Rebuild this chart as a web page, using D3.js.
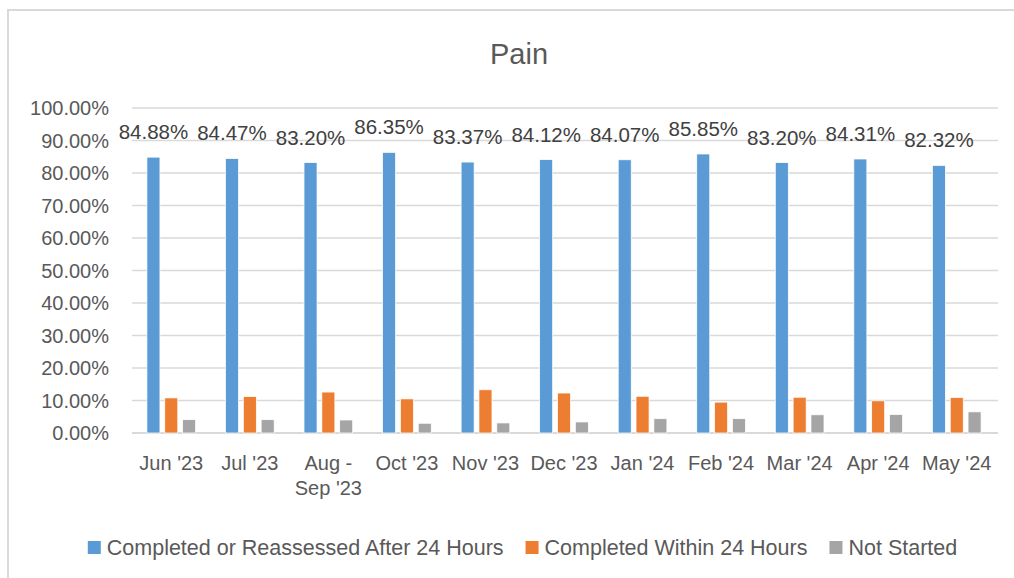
<!DOCTYPE html>
<html>
<head>
<meta charset="utf-8">
<script src="https://cdn.jsdelivr.net/npm/d3@7"></script>
<style>
  body { margin: 0; background: #fff; }
  svg { display: block; font-family: "Liberation Sans", Arial, sans-serif; }
</style>
</head>
<body>
<svg id="chart" width="1014" height="578"></svg>
<script>
// data
const categories = ["Jun '23", "Jul '23", "Aug - Sep '23", "Oct '23", "Nov '23", "Dec '23", "Jan '24", "Feb '24", "Mar '24", "Apr '24", "May '24"];
const seriesNames = ["Completed or Reassessed After 24 Hours", "Completed Within 24 Hours", "Not Started"];
const reassessed = [84.88, 84.47, 83.20, 86.35, 83.37, 84.12, 84.07, 85.85, 83.20, 84.31, 82.32];
const within24 = [10.8, 11.2, 12.6, 10.5, 13.3, 12.3, 11.3, 9.5, 11.0, 9.9, 10.9];
const notStarted = [4.1, 4.1, 4.0, 3.0, 3.1, 3.4, 4.4, 4.4, 5.6, 5.7, 6.5];
const yTicks = [0, 10, 20, 30, 40, 50, 60, 70, 80, 90, 100];
const colors = ["#5b9bd5", "#ed7d31", "#a5a5a5"];

const rows = categories.map((c, i) => ({cat: c, vals: [reassessed[i], within24[i], notStarted[i]]}));

const svg = d3.select("#chart");
const margin = {top: 108, right: 16, bottom: 145, left: 132};
const width = 1014, height = 578;

// chart frame (only left and top edges are in view)
svg.append("path")
  .attr("d", "M8,600 L8,10 L1020,10")
  .attr("fill", "none")
  .attr("stroke", "#d9d9d9")
  .attr("stroke-width", 2);

svg.append("text")
  .attr("x", 519).attr("y", 64)
  .attr("text-anchor", "middle")
  .attr("font-size", 29)
  .attr("fill", "#595959")
  .text("Pain");

const x0 = d3.scaleBand(categories, [margin.left, width - margin.right - 2])
  .paddingInner(0.38).paddingOuter(0.19);
const x1 = d3.scaleBand([0, 1, 2], [0, x0.bandwidth()]).paddingInner(0.27);
const y = d3.scaleLinear([0, 100], [height - margin.bottom, margin.top]);

// gridlines + y labels
svg.append("g")
  .selectAll("line")
  .data(yTicks)
  .join("line")
  .attr("x1", margin.left).attr("x2", width - margin.right)
  .attr("y1", d => y(d)).attr("y2", d => y(d))
  .attr("stroke", "#d9d9d9")
  .attr("stroke-width", d => d === 0 ? 2 : 1.5);

svg.append("g")
  .selectAll("text")
  .data(yTicks)
  .join("text")
  .attr("x", 109).attr("y", d => y(d) + 7)
  .attr("text-anchor", "end")
  .attr("font-size", 20)
  .attr("fill", "#595959")
  .text(d => d.toFixed(2) + "%");

// bars
const groups = svg.append("g")
  .selectAll("g")
  .data(rows)
  .join("g")
  .attr("transform", d => `translate(${x0(d.cat)},0)`);

groups.selectAll("rect")
  .data(d => d.vals.map((v, k) => ({k, v})))
  .join("rect")
  .attr("x", d => x1(d.k))
  .attr("width", x1.bandwidth())
  .attr("y", d => y(d.v))
  .attr("height", d => y(0) - y(d.v))
  .attr("fill", d => colors[d.k])
  .attr("stroke", "#fff")
  .attr("stroke-width", 0.75);

// data labels on the first series
groups.append("text")
  .attr("x", x1(0) + x1.bandwidth() / 2)
  .attr("y", d => y(d.vals[0]) - 18)
  .attr("text-anchor", "middle")
  .attr("font-size", 20.5)
  .attr("fill", "#404040")
  .text(d => d.vals[0].toFixed(2) + "%");

// category labels (wrap "Aug - Sep '23")
svg.append("g")
  .selectAll("text")
  .data(categories)
  .join("text")
  .attr("x", d => x0(d) + x0.bandwidth() / 2)
  .attr("y", 470)
  .attr("text-anchor", "middle")
  .attr("font-size", 20)
  .attr("fill", "#595959")
  .each(function(d) {
    const parts = d === "Aug - Sep '23" ? ["Aug -", "Sep '23"] : [d];
    d3.select(this).selectAll("tspan")
      .data(parts)
      .join("tspan")
      .attr("x", x0(d) + x0.bandwidth() / 2)
      .attr("dy", (p, i) => i ? 25 : 0)
      .text(p => p);
  });

// legend
const legend = svg.append("g");
let lx = 0;
seriesNames.forEach((name, k) => {
  const item = legend.append("g").attr("transform", `translate(${lx},0)`);
  item.append("rect")
    .attr("x", 0).attr("y", 541)
    .attr("width", 13).attr("height", 13)
    .attr("fill", colors[k]);
  const t = item.append("text")
    .attr("x", 19).attr("y", 555)
    .attr("font-size", 21.5)
    .attr("fill", "#595959")
    .text(name);
  lx += 19 + t.node().getComputedTextLength() + 22;
});
const lw = lx - 22;
legend.attr("transform", `translate(${(82 + 963) / 2 - lw / 2},0)`);
</script>
</body>
</html>
